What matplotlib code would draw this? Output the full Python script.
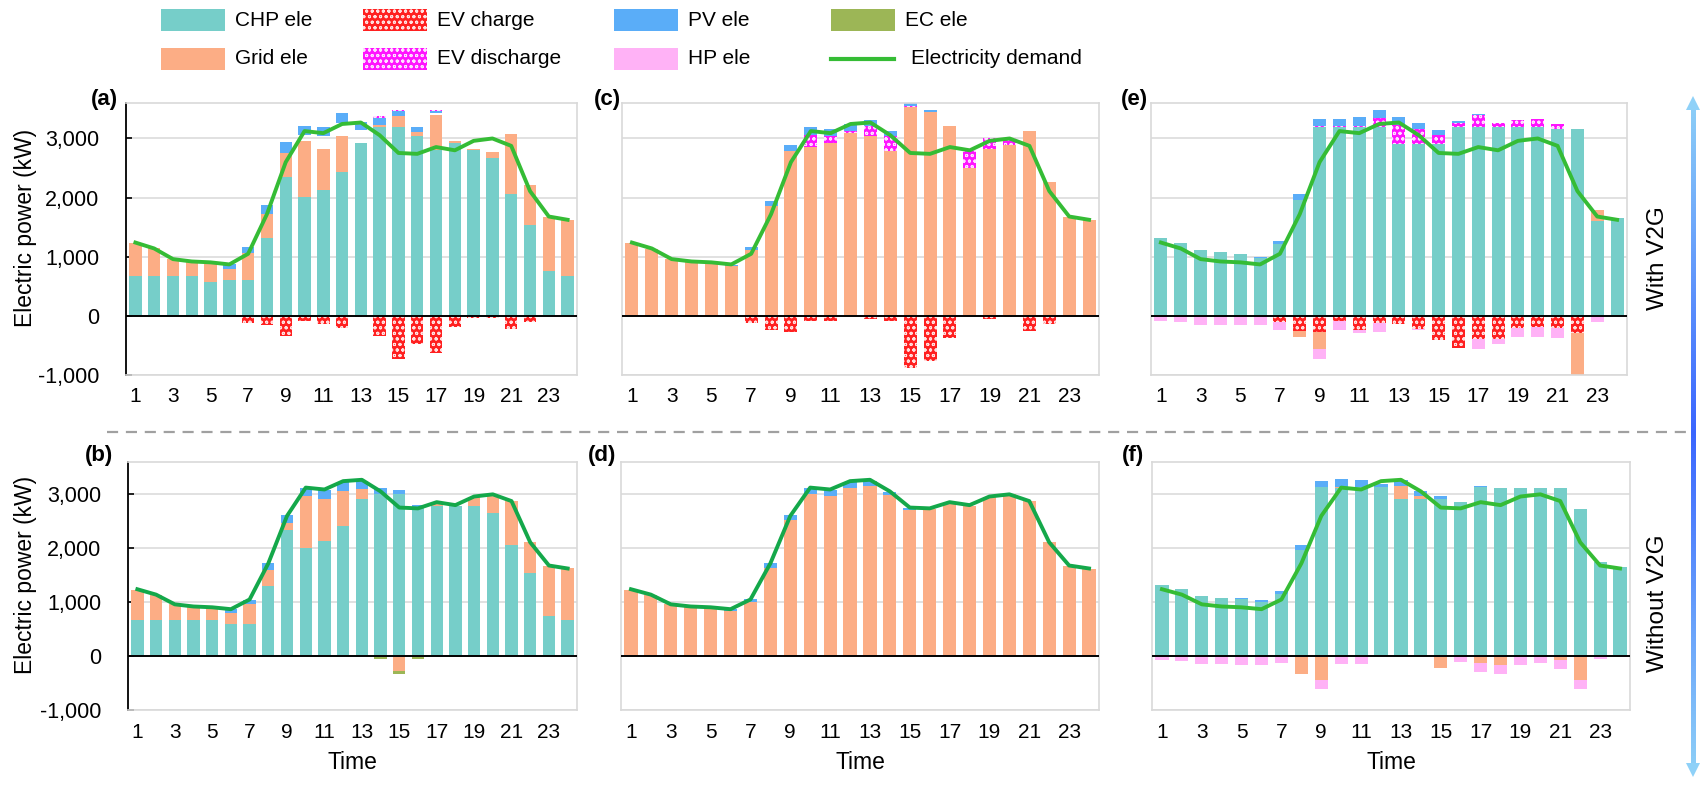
import numpy as np
import matplotlib
matplotlib.use("Agg")
import matplotlib.pyplot as plt
from matplotlib.patches import Rectangle, Polygon
from matplotlib.lines import Line2D
from matplotlib.ticker import FuncFormatter, MultipleLocator

plt.rcParams["font.family"] = ["Liberation Sans", "DejaVu Sans"]
plt.rcParams["hatch.linewidth"] = 0.7

W, H = 1704, 785

hours = np.arange(1, 25)
tick_hours = list(range(1, 24, 2))

demand = [1240, 1140, 960, 920, 905, 870, 1050, 1720, 2600, 3125, 3090, 3245,
          3270, 3055, 2755, 2740, 2855, 2800, 2960, 3000, 2875, 2110, 1680, 1625]

# (a) with V2G, case 1
a_chp = [680, 680, 680, 680, 575, 605, 605, 1320, 2355, 2005, 2130, 2430,
         2920, 3190, 3190, 3050, 2805, 2930, 2805, 2675, 2060, 1535, 760, 680]
a_grid = [560, 460, 280, 235, 310, 195, 460, 410, 400, 945, 690, 605,
          0, 40, 185, 55, 590, 25, 15, 100, 1010, 675, 915, 940]
a_gap = [0, 0, 0, 0, 0, 0, 0, 0, 0, 110, 220, 235,
         225, 0, 0, 10, 30, 0, 0, 0, 0, 0, 0, 0]
a_pv = [0, 0, 0, 0, 30, 85, 100, 153, 186, 152, 152, 158,
        140, 123, 95, 85, 45, 0, 0, 0, 0, 0, 0, 0]
a_dis = [0, 0, 0, 0, 0, 0, 0, 0, 0, 0, 0, 0,
         0, 22, 18, 0, 8, 0, 0, 0, 0, 0, 0, 0]
a_ev = [0, 0, 0, 0, 0, 0, -118, -158, -344, -90, -130, -200,
        -25, -344, -733, -475, -620, -195, -30, -30, -230, -110, 0, 0]

# (b) without V2G, case 1
b_chp = [678, 678, 678, 678, 678, 598, 598, 1306, 2341, 1996, 2126, 2415,
         2920, 3000, 3000, 2754, 2785, 2785, 2785, 2662, 2058, 1534, 752, 678]
b_grid = [554, 462, 289, 228, 197, 197, 369, 296, 124, 974, 794, 647,
          185, 0, 0, 0, 80, 0, 166, 326, 819, 573, 912, 949]
b_pv = [0, 0, 0, 0, 31, 80, 80, 117, 147, 141, 160, 166,
        142, 111, 80, 49, 0, 0, 0, 0, 0, 0, 0, 0]
b_grid_neg = [0, 0, 0, 0, 0, 0, 0, 0, 0, 0, 0, 0,
              0, 0, -277, 0, 0, 0, 0, 0, 0, 0, 0, 0]
b_ec = [0, 0, 0, 0, 0, 0, 0, 0, 0, 0, 0, 0,
        0, -60, -60, -60, 0, -15, 0, 0, 0, 0, 0, 0]

# (c) with V2G, case 2
c_grid = [1230, 1128, 959, 919, 902, 835, 1117, 1861, 2781, 2848, 2921, 3091,
          3034, 2781, 3531, 3446, 3215, 2499, 2826, 2893, 3130, 2256, 1675, 1624]
c_dis = [0, 0, 0, 0, 0, 0, 0, 0, 0, 215, 125, 39,
         181, 253, 22, 0, 0, 310, 180, 113, 0, 0, 0, 0]
c_pv = [0, 0, 0, 0, 0, 28, 56, 85, 112, 129, 112, 113,
        101, 96, 45, 40, 0, 0, 0, 0, 0, 0, 0, 0]
c_ev = [0, 0, 0, 0, 0, 0, -124, -235, -270, -85, -85, 0,
        -55, -80, -880, -760, -370, 0, -50, -25, -250, -130, 0, 0]

# (d) without V2G, case 2
d_grid = [1235, 1136, 963, 920, 901, 840, 994, 1642, 2519, 3000, 2969, 3123,
          3154, 2988, 2704, 2722, 2833, 2784, 2951, 3000, 2877, 2117, 1673, 1623]
d_pv = [0, 0, 0, 0, 0, 30, 62, 80, 98, 111, 111, 105,
        93, 61, 37, 0, 0, 0, 0, 0, 0, 0, 0, 0]

# (e) with V2G, case 3
e_chp = [1319, 1235, 1107, 1080, 1041, 985, 1208, 1959, 3200, 3200, 3200, 3200,
         2905, 2905, 2905, 3200, 3200, 3200, 3200, 3200, 3155, 3155, 1597, 1653]
e_grid = [0, 0, 0, 0, 0, 0, 0, 0, 0, 0, 0, 0,
          0, 0, 0, 0, 0, 0, 0, 0, 0, 0, 195, 0]
e_dis = [0, 0, 0, 0, 0, 0, 0, 0, 11, 11, 11, 150,
         317, 261, 156, 55, 189, 55, 111, 133, 95, 0, 0, 0]
e_pv = [0, 0, 0, 0, 0, 17, 66, 100, 111, 122, 156, 128,
        139, 101, 83, 39, 17, 0, 0, 0, 0, 0, 0, 0]
e_ev = [0, 0, 0, 0, 0, 0, -110, -250, -267, -80, -245, -125,
        -130, -225, -410, -540, -395, -395, -200, -180, -210, -295, 0, 0]
e_grid_neg = [0, 0, 0, 0, 0, 0, 0, -100, -295, 0, 0, 0,
              0, 0, 0, 0, 0, 0, 0, 0, 0, -725, 0, 0]
e_hp = [-90, -110, -150, -160, -160, -160, -130, 0, -167, -160, -45, -140,
        0, -10, 0, 0, -170, -80, -160, -170, -165, 0, -110, -5]

# (f) without V2G, case 3
f_chp = [1319, 1239, 1117, 1074, 1055, 1006, 1147, 1975, 3141, 3110, 3141, 3141,
         2908, 2908, 2914, 2859, 3141, 3123, 3123, 3123, 3123, 2724, 1742, 1650]
f_grid = [0, 0, 0, 0, 0, 0, 0, 0, 0, 20, 0, 0,
          245, 61, 0, 0, 0, 0, 0, 0, 0, 0, 0, 0]
f_pv = [0, 0, 0, 0, 31, 31, 62, 92, 104, 146, 117, 60,
        111, 92, 55, 0, 19, 0, 0, 0, 0, 0, 0, 0]
f_grid_neg = [0, 0, 0, 0, 0, 0, 0, -340, -435, 0, 0, 0,
              0, 0, -225, 0, -120, -160, 0, 0, -75, -435, 0, 0]
f_hp = [-70, -100, -140, -150, -160, -160, -135, 0, -170, -150, -150, 0,
        0, 0, 0, -110, -175, -175, -165, -135, -165, -170, -55, -10]

styles = {
    "chp": dict(color="#76CEC9"),
    "grid": dict(color="#FCAD85"),
    "ev_ch": dict(color="#FF2020", hatch="ooo", edgecolor="#FFE0E0"),
    "ev_dis": dict(color="#FF14FF", hatch="ooo", edgecolor="#FFE0FF"),
    "pv": dict(color="#5AADF8"),
    "hp": dict(color="#FFB2F6"),
    "ec": dict(color="#9CB656"),
}


def stack(ax, layers):
    bottom = np.zeros(len(hours))
    for vals, key in layers:
        vals = np.asarray(vals, float)
        if key is not None:
            st = styles[key]
            ax.bar(hours, vals, width=0.66, bottom=bottom, color=st["color"],
                   hatch=st.get("hatch"), edgecolor=st.get("edgecolor", "none"),
                   linewidth=0, zorder=2)
        bottom = bottom + vals


def rect(l, r, t, b):
    return [l / W, 1 - b / H, (r - l) / W, (b - t) / H]


panels = [
    ("(a)", (126, 577, 103, 375), (118, 99),
     [(a_chp, "chp"), (a_grid, "grid"), (a_gap, None), (a_pv, "pv"), (a_dis, "ev_dis")],
     [(a_ev, "ev_ch")], "#35BC35", True, False),
    ("(c)", (622, 1099, 103, 375), (621, 99),
     [(c_grid, "grid"), (c_dis, "ev_dis"), (c_pv, "pv")],
     [(c_ev, "ev_ch")], "#35BC35", False, False),
    ("(e)", (1151, 1627, 103, 375), (1148, 99),
     [(e_chp, "chp"), (e_grid, "grid"), (e_dis, "ev_dis"), (e_pv, "pv")],
     [(e_ev, "ev_ch"), (e_grid_neg, "grid"), (e_hp, "hp")], "#35BC35", False, False),
    ("(b)", (128, 577, 462, 710), (113, 455),
     [(b_chp, "chp"), (b_grid, "grid"), (b_pv, "pv")],
     [(b_grid_neg, "grid"), (b_ec, "ec")], "#14A84A", True, True),
    ("(d)", (621, 1099, 462, 710), (616, 455),
     [(d_grid, "grid"), (d_pv, "pv")],
     [], "#14A84A", False, True),
    ("(f)", (1152, 1630, 462, 710), (1144, 455),
     [(f_chp, "chp"), (f_grid, "grid"), (f_pv, "pv")],
     [(f_grid_neg, "grid"), (f_hp, "hp")], "#35BC35", False, True),
]

fig = plt.figure(figsize=(W / 100, H / 100), dpi=100)

for label, box, lab_xy, pos, neg, lc, first_col, bottom_row in panels:
    ax = fig.add_axes(rect(*box))
    stack(ax, pos)
    stack(ax, neg)
    ax.plot(hours, demand, color=lc, lw=2.8, zorder=4)
    ax.axhline(0, color="black", lw=1.4, zorder=3)
    ax.set_xlim(0.5, 24.5)
    ax.set_ylim(-1000, 3600)
    ax.yaxis.set_major_locator(MultipleLocator(1000))
    ax.grid(axis="y", color="#D9D9D9", lw=1.1, zorder=0)
    ax.set_axisbelow(True)
    for sp in ax.spines.values():
        sp.set_color("#D9D9D9")
        sp.set_linewidth(1.2)
    ax.set_xticks(tick_hours)
    ax.tick_params(axis="x", length=0, pad=9, labelsize=15)
    if first_col:
        ax.spines["left"].set_color("black")
        ax.spines["left"].set_linewidth(1.3)
        ax.yaxis.set_major_formatter(FuncFormatter(lambda v, p: f"{int(v):,}"))
        ax.tick_params(axis="y", direction="in", length=4, width=1.2,
                       pad=19, labelsize=15.5)
        ax.set_ylabel("Electric power (kW)", fontsize=16.5)
        w_ax = box[1] - box[0]
        h_ax = box[3] - box[2]
        ax.yaxis.set_label_coords((37 - box[0]) / w_ax, 0.5 + 11 / h_ax)
    else:
        ax.tick_params(axis="y", left=False, labelleft=False)
    if bottom_row:
        ax.set_xlabel("Time", fontsize=16.5, labelpad=7)
    fig.text(lab_xy[0] / W, 1 - lab_xy[1] / H, label, ha="right", va="center",
             fontsize=16, fontweight="bold")

# overlay for legend, separator and side arrow (pixel coordinates)
ov = fig.add_axes([0, 0, 1, 1], zorder=10)
ov.set_xlim(0, W)
ov.set_ylim(H, 0)
ov.axis("off")

legend_items = [
    ("CHP ele", "chp", 161, 20), ("Grid ele", "grid", 161, 59),
    ("EV charge", "ev_ch", 363, 20), ("EV discharge", "ev_dis", 363, 59),
    ("PV ele", "pv", 614, 20), ("HP ele", "hp", 614, 59),
    ("EC ele", "ec", 831, 20),
]
for text, key, x0, yc in legend_items:
    st = styles[key]
    ov.add_patch(Rectangle((x0, yc - 11), 64, 22, facecolor=st["color"],
                           hatch=st.get("hatch"), edgecolor=st.get("edgecolor", "none"),
                           linewidth=0))
    ov.text(x0 + 74, yc, text, ha="left", va="center", fontsize=15)
ov.add_line(Line2D([831, 894], [59, 59], color="#35BC35", lw=3))
ov.text(911, 59, "Electricity demand", ha="left", va="center", fontsize=15)

# dashed separator
ov.plot([107, 1692], [432, 432], color="#A0A0A0", lw=1.6, ls=(0, (5, 3.5)))

# double arrow with blue gradient
ax_x, ax_top, ax_bot, ax_mid = 1693, 96, 777, 432
n = 200
ys = np.linspace(ax_top + 13, ax_bot - 13, n)
t = 1 - np.abs(ys - ax_mid) / np.where(ys < ax_mid, ax_mid - ax_top, ax_bot - ax_mid)
c_light = np.array([0.56, 0.82, 0.97])
c_dark = np.array([0.23, 0.40, 1.00])
grad = (c_light[None, :] * (1 - t[:, None]) + c_dark[None, :] * t[:, None])[:, None, :]
ov.imshow(grad, extent=[ax_x - 2.5, ax_x + 2.5, ys[-1], ys[0]], aspect="auto",
          interpolation="bilinear")
ov.add_patch(Polygon([[ax_x - 7, ax_top + 14], [ax_x + 7, ax_top + 14], [ax_x, ax_top]],
                     closed=True, facecolor="#8FD1F8", edgecolor="none"))
ov.add_patch(Polygon([[ax_x - 7, ax_bot - 14], [ax_x + 7, ax_bot - 14], [ax_x, ax_bot]],
                     closed=True, facecolor="#8FD1F8", edgecolor="none"))
ov.set_xlim(0, W)
ov.set_ylim(H, 0)

ov.text(1658, 258, "With V2G", rotation=90, ha="center", va="center", fontsize=17.5)
ov.text(1658, 603, "Without V2G", rotation=90, ha="center", va="center", fontsize=17.5)

fig.savefig("out.png", dpi=100)
